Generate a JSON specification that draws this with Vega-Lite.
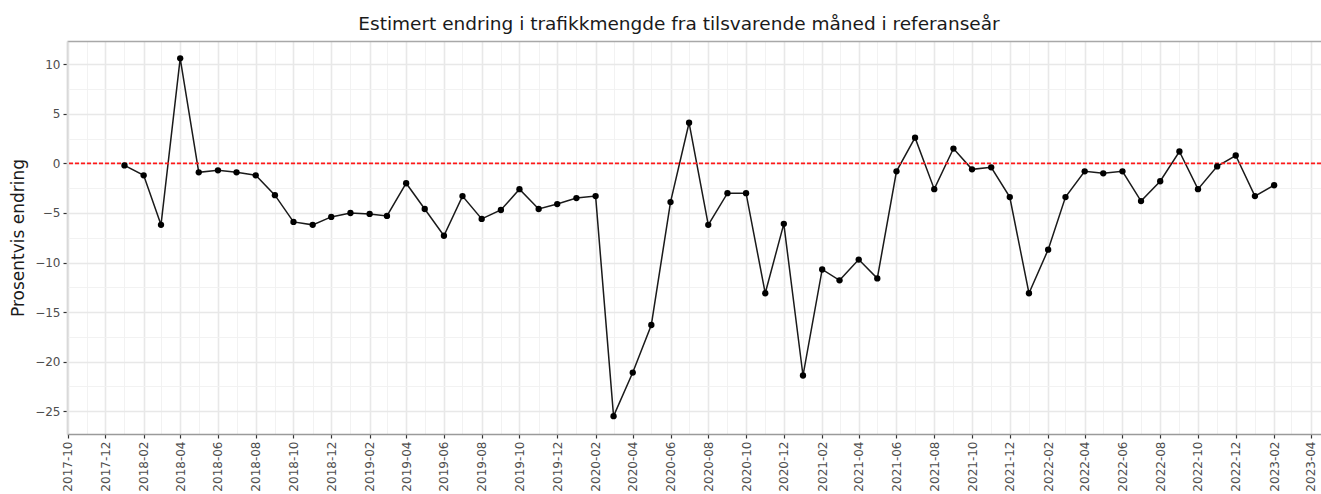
{
  "$schema": "https://vega.github.io/schema/vega-lite/v6.json",
  "width": 1254,
  "height": 393,
  "autosize": {"type": "none"},
  "padding": {"left": 67, "top": 41, "right": 0, "bottom": 60},
  "background": "white",
  "config": {"view": {"stroke": null}, "font": "DejaVu Sans"},
  "title": {"text": "Estimert endring i trafikkmengde fra tilsvarende måned i referanseår", "fontSize": 18.5, "fontWeight": "normal", "color": "#1a1a1a", "font": "DejaVu Sans", "anchor": "middle", "frame": "group", "dx": -15, "offset": 8},
  "data": {"values": [
    {"d": "2018-01-01", "v": -0.2}, {"d": "2018-02-01", "v": -1.2}, {"d": "2018-03-01", "v": -6.2}, {"d": "2018-04-01", "v": 10.6},
    {"d": "2018-05-01", "v": -0.9}, {"d": "2018-06-01", "v": -0.7}, {"d": "2018-07-01", "v": -0.9}, {"d": "2018-08-01", "v": -1.2},
    {"d": "2018-09-01", "v": -3.2}, {"d": "2018-10-01", "v": -5.9}, {"d": "2018-11-01", "v": -6.2}, {"d": "2018-12-01", "v": -5.4},
    {"d": "2019-01-01", "v": -5.0}, {"d": "2019-02-01", "v": -5.1}, {"d": "2019-03-01", "v": -5.3}, {"d": "2019-04-01", "v": -2.0},
    {"d": "2019-05-01", "v": -4.6}, {"d": "2019-06-01", "v": -7.3}, {"d": "2019-07-01", "v": -3.3}, {"d": "2019-08-01", "v": -5.6},
    {"d": "2019-09-01", "v": -4.7}, {"d": "2019-10-01", "v": -2.6}, {"d": "2019-11-01", "v": -4.6}, {"d": "2019-12-01", "v": -4.1},
    {"d": "2020-01-01", "v": -3.5}, {"d": "2020-02-01", "v": -3.3}, {"d": "2020-03-01", "v": -25.5}, {"d": "2020-04-01", "v": -21.1},
    {"d": "2020-05-01", "v": -16.3}, {"d": "2020-06-01", "v": -3.9}, {"d": "2020-07-01", "v": 4.1}, {"d": "2020-08-01", "v": -6.2},
    {"d": "2020-09-01", "v": -3.0}, {"d": "2020-10-01", "v": -3.0}, {"d": "2020-11-01", "v": -13.1}, {"d": "2020-12-01", "v": -6.1},
    {"d": "2021-01-01", "v": -21.4}, {"d": "2021-02-01", "v": -10.7}, {"d": "2021-03-01", "v": -11.8}, {"d": "2021-04-01", "v": -9.7},
    {"d": "2021-05-01", "v": -11.6}, {"d": "2021-06-01", "v": -0.8}, {"d": "2021-07-01", "v": 2.6}, {"d": "2021-08-01", "v": -2.6},
    {"d": "2021-09-01", "v": 1.5}, {"d": "2021-10-01", "v": -0.6}, {"d": "2021-11-01", "v": -0.4}, {"d": "2021-12-01", "v": -3.4},
    {"d": "2022-01-01", "v": -13.1}, {"d": "2022-02-01", "v": -8.7}, {"d": "2022-03-01", "v": -3.4}, {"d": "2022-04-01", "v": -0.8},
    {"d": "2022-05-01", "v": -1.0}, {"d": "2022-06-01", "v": -0.8}, {"d": "2022-07-01", "v": -3.8}, {"d": "2022-08-01", "v": -1.8},
    {"d": "2022-09-01", "v": 1.2}, {"d": "2022-10-01", "v": -2.6}, {"d": "2022-11-01", "v": -0.3}, {"d": "2022-12-01", "v": 0.8},
    {"d": "2023-01-01", "v": -3.3}, {"d": "2023-02-01", "v": -2.2}
  ]},
  "layer": [
    {
      "mark": {"type": "line", "color": "#1a1a1a", "strokeWidth": 1.5},
      "encoding": {
        "x": {
          "field": "d", "type": "temporal",
          "scale": {"type": "utc", "domain": [{"year": 2017, "month": 9, "date": 30, "hours": 4, "utc": true}, {"year": 2023, "month": 4, "date": 17, "hours": 17, "utc": true}]},
          "axis": {
            "orient": "bottom", "title": null,
            "values": [
              {"year": 2017, "month": 10, "date": 1, "utc": true}, {"year": 2017, "month": 12, "date": 1, "utc": true},
              {"year": 2018, "month": 2, "date": 1, "utc": true}, {"year": 2018, "month": 4, "date": 1, "utc": true}, {"year": 2018, "month": 6, "date": 1, "utc": true}, {"year": 2018, "month": 8, "date": 1, "utc": true}, {"year": 2018, "month": 10, "date": 1, "utc": true}, {"year": 2018, "month": 12, "date": 1, "utc": true},
              {"year": 2019, "month": 2, "date": 1, "utc": true}, {"year": 2019, "month": 4, "date": 1, "utc": true}, {"year": 2019, "month": 6, "date": 1, "utc": true}, {"year": 2019, "month": 8, "date": 1, "utc": true}, {"year": 2019, "month": 10, "date": 1, "utc": true}, {"year": 2019, "month": 12, "date": 1, "utc": true},
              {"year": 2020, "month": 2, "date": 1, "utc": true}, {"year": 2020, "month": 4, "date": 1, "utc": true}, {"year": 2020, "month": 6, "date": 1, "utc": true}, {"year": 2020, "month": 8, "date": 1, "utc": true}, {"year": 2020, "month": 10, "date": 1, "utc": true}, {"year": 2020, "month": 12, "date": 1, "utc": true},
              {"year": 2021, "month": 2, "date": 1, "utc": true}, {"year": 2021, "month": 4, "date": 1, "utc": true}, {"year": 2021, "month": 6, "date": 1, "utc": true}, {"year": 2021, "month": 8, "date": 1, "utc": true}, {"year": 2021, "month": 10, "date": 1, "utc": true}, {"year": 2021, "month": 12, "date": 1, "utc": true},
              {"year": 2022, "month": 2, "date": 1, "utc": true}, {"year": 2022, "month": 4, "date": 1, "utc": true}, {"year": 2022, "month": 6, "date": 1, "utc": true}, {"year": 2022, "month": 8, "date": 1, "utc": true}, {"year": 2022, "month": 10, "date": 1, "utc": true}, {"year": 2022, "month": 12, "date": 1, "utc": true},
              {"year": 2023, "month": 2, "date": 1, "utc": true}, {"year": 2023, "month": 4, "date": 1, "utc": true}
            ],
            "labelExpr": "utcFormat(datum.value, '%Y-%m')",
            "labelAngle": -90, "labelFontSize": 12, "labelColor": "#4d4d4d", "labelPadding": 3, "labelOverlap": false, "labelFont": "DejaVu Sans",
            "tickColor": "#333333", "tickSize": 4, "tickWidth": 1.2,
            "domainColor": "#9a9a9a", "domainWidth": 1.6,
            "grid": true, "gridColor": "#e8e8e8", "gridWidth": 1.6
          }
        },
        "y": {
          "field": "v", "type": "quantitative",
          "scale": {"domain": [-27.3, 12.35], "nice": false, "zero": false},
          "axis": {
            "orient": "left", "title": "Prosentvis endring", "titleFontSize": 17, "titleFontWeight": "normal", "titleColor": "#1a1a1a", "titleFont": "DejaVu Sans", "titlePadding": 7,
            "values": [-25, -20, -15, -10, -5, 0, 5, 10],
            "labelFontSize": 12, "labelColor": "#4d4d4d", "labelPadding": 3, "labelFont": "DejaVu Sans",
            "tickColor": "#333333", "tickSize": 4, "tickWidth": 1.2,
            "domainColor": "#d9d9d9", "domainWidth": 1.8,
            "grid": true, "gridColor": "#e8e8e8", "gridWidth": 1.6
          }
        }
      }
    },
    {
      "data": {"values": [{"z": 0}]},
      "mark": {"type": "rule", "color": "#ff1a1a", "strokeDash": [4, 2], "strokeWidth": 1.8},
      "encoding": {"y": {"field": "z", "type": "quantitative", "axis": null}}
    },
    {
      "mark": {"type": "point", "filled": true, "color": "black", "size": 40, "opacity": 1},
      "encoding": {
        "x": {
          "field": "d", "type": "temporal",
          "axis": {
            "orient": "top", "title": null, "labels": false, "ticks": false,
            "values": [
              {"year": 2017, "month": 11, "date": 1, "utc": true},
              {"year": 2018, "month": 1, "date": 1, "utc": true}, {"year": 2018, "month": 3, "date": 1, "utc": true}, {"year": 2018, "month": 5, "date": 1, "utc": true}, {"year": 2018, "month": 7, "date": 1, "utc": true}, {"year": 2018, "month": 9, "date": 1, "utc": true}, {"year": 2018, "month": 11, "date": 1, "utc": true},
              {"year": 2019, "month": 1, "date": 1, "utc": true}, {"year": 2019, "month": 3, "date": 1, "utc": true}, {"year": 2019, "month": 5, "date": 1, "utc": true}, {"year": 2019, "month": 7, "date": 1, "utc": true}, {"year": 2019, "month": 9, "date": 1, "utc": true}, {"year": 2019, "month": 11, "date": 1, "utc": true},
              {"year": 2020, "month": 1, "date": 1, "utc": true}, {"year": 2020, "month": 3, "date": 1, "utc": true}, {"year": 2020, "month": 5, "date": 1, "utc": true}, {"year": 2020, "month": 7, "date": 1, "utc": true}, {"year": 2020, "month": 9, "date": 1, "utc": true}, {"year": 2020, "month": 11, "date": 1, "utc": true},
              {"year": 2021, "month": 1, "date": 1, "utc": true}, {"year": 2021, "month": 3, "date": 1, "utc": true}, {"year": 2021, "month": 5, "date": 1, "utc": true}, {"year": 2021, "month": 7, "date": 1, "utc": true}, {"year": 2021, "month": 9, "date": 1, "utc": true}, {"year": 2021, "month": 11, "date": 1, "utc": true},
              {"year": 2022, "month": 1, "date": 1, "utc": true}, {"year": 2022, "month": 3, "date": 1, "utc": true}, {"year": 2022, "month": 5, "date": 1, "utc": true}, {"year": 2022, "month": 7, "date": 1, "utc": true}, {"year": 2022, "month": 9, "date": 1, "utc": true}, {"year": 2022, "month": 11, "date": 1, "utc": true},
              {"year": 2023, "month": 1, "date": 1, "utc": true}, {"year": 2023, "month": 3, "date": 1, "utc": true}
            ],
            "domain": true, "domainColor": "#a8a8a8", "domainWidth": 1.6,
            "grid": true, "gridColor": "#f1f1f1", "gridWidth": 0.9
          }
        },
        "y": {
          "field": "v", "type": "quantitative",
          "axis": {
            "orient": "right", "title": null, "labels": false, "ticks": false, "domain": false,
            "values": [-22.5, -17.5, -12.5, -7.5, -2.5, 2.5, 7.5],
            "grid": true, "gridColor": "#f1f1f1", "gridWidth": 0.9
          }
        }
      }
    }
  ],
  "resolve": {"axis": {"x": "independent", "y": "independent"}}
}
